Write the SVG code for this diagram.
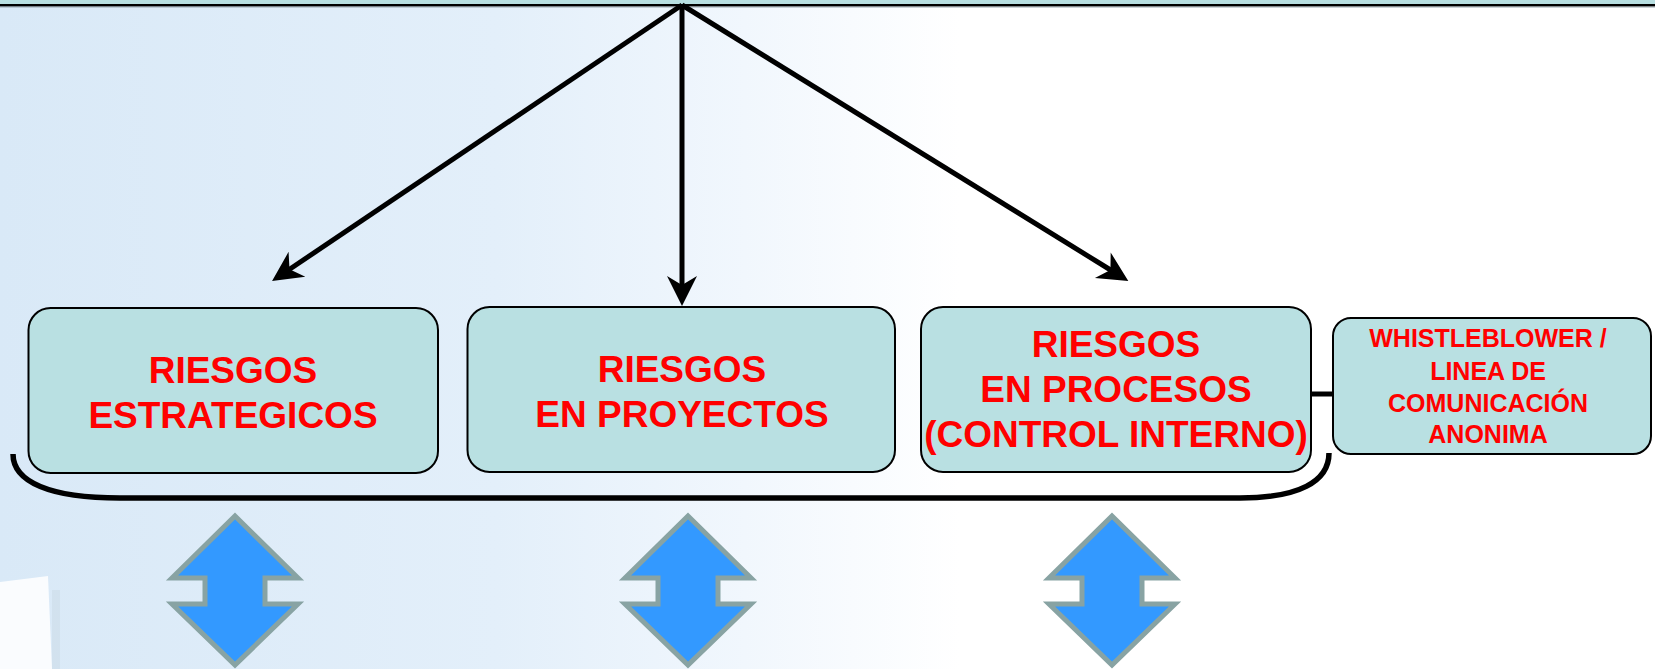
<svg xmlns="http://www.w3.org/2000/svg" width="1655" height="669" viewBox="0 0 1655 669">
<style>
.box{fill:#b9e0e2;stroke:#000;stroke-width:2}
.t{font-family:"Liberation Sans",Arial,sans-serif;font-weight:bold;fill:#ff0000;text-anchor:middle}
.big{font-size:37px}
.small{font-size:25px}
.conn{stroke:#000;stroke-width:5;fill:none}
.dbl{fill:#3399ff;stroke:#88a3a3;stroke-width:5;stroke-linejoin:miter}
</style>
<defs>
<linearGradient id="bg" x1="0" y1="0" x2="1" y2="0">
<stop offset="0" stop-color="#d9e9f7"/>
<stop offset="0.3" stop-color="#e3effa"/>
<stop offset="0.45" stop-color="#f1f7fd"/>
<stop offset="0.58" stop-color="#ffffff"/>
<stop offset="1" stop-color="#ffffff"/>
</linearGradient>
<marker id="ah" markerUnits="userSpaceOnUse" viewBox="-14 -16 34 32" refX="0" refY="0" markerWidth="34" markerHeight="32" orient="auto">
<path d="M18,0 L-12,-15 L-3,0 L-12,15 Z" fill="#000"/>
</marker>
<path id="dblshape" d="M0,516 L63,578 L30,578 L30,604 L63,604 L0,665 L-63,604 L-30,604 L-30,578 L-63,578 Z"/>
</defs>
<rect x="0" y="0" width="1655" height="669" fill="url(#bg)"/>
<rect x="0" y="0" width="1655" height="4" fill="#b8dfe1"/>
<rect x="0" y="4" width="1655" height="2.5" fill="#000"/>
<rect x="0" y="6.5" width="1655" height="1.5" fill="#9aa8b0" opacity="0.5"/>
<polygon points="0,582 48,576 52,669 0,669" fill="#ffffff" opacity="0.85"/>
<rect x="52" y="590" width="8" height="79" fill="#c9d9e6" opacity="0.5"/>

<g id="connectors">
<line class="conn" x1="682" y1="5" x2="287" y2="271" marker-end="url(#ah)"/>
<line class="conn" x1="682" y1="5" x2="682" y2="288" marker-end="url(#ah)"/>
<line class="conn" x1="682" y1="5" x2="1113" y2="271.5" marker-end="url(#ah)"/>
<line x1="1310" y1="394" x2="1334" y2="394" stroke="#000" stroke-width="5"/>
<path d="M13,454 C13,482 50,498 120,498 L1240,498 C1298,498 1329,482 1329,453" fill="none" stroke="#000" stroke-width="5.5"/>
</g>

<g id="node-estrategicos">
<rect class="box" x="28.5" y="308" width="409.5" height="165" rx="22"/>
<text class="t big" x="233" y="383">RIESGOS</text>
<text class="t big" x="233" y="428">ESTRATEGICOS</text>
</g>
<g id="node-proyectos">
<rect class="box" x="467.5" y="307" width="427.5" height="165" rx="22"/>
<text class="t big" x="682" y="382">RIESGOS</text>
<text class="t big" x="682" y="427">EN PROYECTOS</text>
</g>
<g id="node-procesos">
<rect class="box" x="921" y="307" width="390" height="165" rx="22"/>
<text class="t big" x="1116" y="357">RIESGOS</text>
<text class="t big" x="1116" y="402">EN PROCESOS</text>
<text class="t big" x="1116" y="447">(CONTROL INTERNO)</text>
</g>
<g id="node-whistleblower">
<rect class="box" x="1333" y="318" width="318" height="136" rx="18"/>
<text class="t small" x="1488" y="347">WHISTLEBLOWER /</text>
<text class="t small" x="1488" y="380">LINEA DE</text>
<text class="t small" x="1488" y="412">COMUNICACIÓN</text>
<text class="t small" x="1488" y="443">ANONIMA</text>
</g>

<g id="dbl-arrow-1"><use href="#dblshape" class="dbl" transform="translate(235,0)"/></g>
<g id="dbl-arrow-2"><use href="#dblshape" class="dbl" transform="translate(688,0)"/></g>
<g id="dbl-arrow-3"><use href="#dblshape" class="dbl" transform="translate(1112,0)"/></g>
</svg>
